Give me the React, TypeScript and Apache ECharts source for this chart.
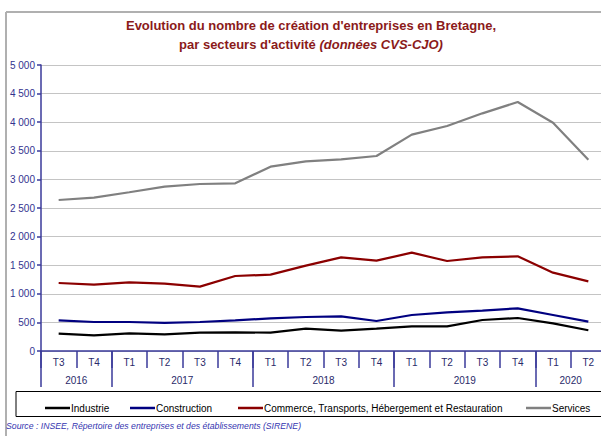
import React, { useEffect, useRef } from "react";
import * as echarts from "echarts";

const years = ["2016", "2017", "2018", "2019", "2020"];
const quartersPerYear = [["T3", "T4"], ["T1", "T2", "T3", "T4"], ["T1", "T2", "T3", "T4"], ["T1", "T2", "T3", "T4"], ["T1", "T2"]];
const quarters = quartersPerYear.flat();

const industrie = [303, 274, 309, 292, 320, 327, 320, 390, 355, 390, 431, 431, 542, 577, 484, 362];
const construction = [536, 507, 507, 490, 507, 536, 571, 594, 606, 524, 629, 676, 705, 746, 629, 513];
const commerce = [1189, 1160, 1200, 1177, 1125, 1311, 1335, 1492, 1637, 1579, 1719, 1573, 1637, 1655, 1369, 1218];
const services = [2640, 2680, 2775, 2873, 2920, 2932, 3222, 3316, 3351, 3409, 3782, 3934, 4155, 4353, 3991, 3345];

const seriesNames = ["Industrie", "Construction", "Commerce, Transports, Hébergement et Restauration", "Services"];
const seriesColors = ["#000000", "#000080", "#8b0000", "#808080"];
const yTicks = [0, 500, 1000, 1500, 2000, 2500, 3000, 3500, 4000, 4500, 5000];

// Build half-slot year axis (33 slots across 16 categories)
const yearSlots: string[] = [];
const yearBoundaries = new Set<number>();
(() => {
  const n = quarters.length * 2 + 1;
  for (let i = 0; i < n; i++) yearSlots.push("");
  let pos = 0;
  yearBoundaries.add(0);
  quartersPerYear.forEach((q, yi) => {
    const center = pos + q.length; // in half-slots
    yearSlots[center] = years[yi];
    pos += q.length * 2;
    yearBoundaries.add(pos);
  });
})();

const NAVY = "#3a3a9a";
const FONT = "Liberation Sans, Arial, sans-serif";

export default function App() {
  const ref = useRef<HTMLDivElement>(null);
  useEffect(() => {
    if (!ref.current) return;
    const chart = echarts.init(ref.current, undefined, { renderer: "svg" });
    const data = [industrie, construction, commerce, services];
    const legendLefts = [40, 125, 233, 521];
    chart.setOption({
      animation: false,
      backgroundColor: "#ffffff",
      textStyle: { fontFamily: FONT },
      grid: { left: 41, right: 4, top: 65, bottom: 85, containLabel: false, outerBoundsMode: "none" },
      xAxis: [
        {
          type: "category",
          data: quarters,
          boundaryGap: true,
          position: "bottom",
          axisLine: { show: true, lineStyle: { color: NAVY, width: 1.5 } },
          axisTick: { show: true, interval: 0, length: 17, lineStyle: { color: NAVY, width: 1.5 } },
          axisLabel: { interval: 0, margin: 6, fontSize: 10, color: "#2a2a6a", fontFamily: FONT },
          splitLine: { show: false },
        },
        {
          type: "category",
          data: yearSlots,
          boundaryGap: false,
          position: "bottom",
          axisLine: { show: false },
          axisTick: {
            show: true,
            length: 36,
            interval: (index: number) => yearBoundaries.has(index),
            lineStyle: { color: NAVY, width: 1.5 },
          },
          axisLabel: { interval: 0, margin: 24, fontSize: 10, color: "#2a2a6a", fontFamily: FONT },
          splitLine: { show: false },
        },
      ],
      yAxis: {
        type: "value",
        min: 0,
        max: 5000,
        interval: 500,
        axisLine: { show: true, lineStyle: { color: NAVY, width: 1.5 } },
        axisTick: { show: true, length: 4, lineStyle: { color: NAVY, width: 1.5 } },
        axisLabel: {
          margin: 6,
          fontSize: 10,
          color: "#33338f",
          fontFamily: FONT,
          formatter: (v: number) => (yTicks.includes(v) ? String(v).replace(/\B(?=(\d{3})+(?!\d))/g, " ") : ""),
        },
        splitLine: { show: true, lineStyle: { color: "#c4c4c4", width: 1 } },
      },
      legend: seriesNames.map((name, i) => ({
        data: [name],
        left: legendLefts[i],
        top: 398,
        icon: "rect",
        itemWidth: 25,
        itemHeight: 2.5,
        itemGap: 0,
        textStyle: { fontSize: 10, color: "#000", fontFamily: FONT, padding: [0, 0, 0, -4] },
        selectedMode: false,
      })),
      series: seriesNames.map((name, i) => ({
        name,
        type: "line",
        xAxisIndex: 0,
        data: data[i],
        showSymbol: false,
        symbol: "none",
        color: seriesColors[i],
        lineStyle: { color: seriesColors[i], width: 2.2 },
        z: 10 - i,
      })),
      graphic: [
        {
          type: "line",
          shape: { x1: 6, y1: 12, x2: 610, y2: 12 },
          style: { stroke: "#b0b0b0", lineWidth: 2 },
          silent: true,
        },
        {
          type: "line",
          shape: { x1: 6, y1: 12, x2: 6, y2: 436 },
          style: { stroke: "#b0b0b0", lineWidth: 2 },
          silent: true,
        },
        {
          type: "rect",
          shape: { x: 16, y: 391.5, width: 600, height: 25 },
          style: { fill: "none", stroke: "#000", lineWidth: 1 },
          silent: true,
        },
        {
          type: "text",
          x: 311,
          y: 16,
          style: {
            text: "Evolution du nombre de création d'entreprises en Bretagne,\npar secteurs d'activité {i|(données CVS-CJO)}",
            align: "center",
            verticalAlign: "top",
            fontSize: 13,
            fontWeight: "bold",
            fontFamily: FONT,
            fill: "#8b1a1a",
            lineHeight: 19,
            rich: {
              i: { fontSize: 13, fontWeight: "bold", fontStyle: "italic", fontFamily: FONT, fill: "#8b1a1a", lineHeight: 19 },
            },
          },
        },
        {
          type: "text",
          x: 6,
          y: 426,
          style: {
            text: "Source : INSEE, Répertoire des entreprises et des établissements (SIRENE)",
            fontSize: 8.7,
            fontStyle: "italic",
            fontFamily: FONT,
            fill: "#3535b0",
            verticalAlign: "middle",
          },
        },
      ],
    });
    return () => chart.dispose();
  }, []);
  return (
    <div style={{ position: "fixed", left: 0, top: 0, width: 601, height: 436, overflow: "hidden", background: "#fff" }}>
      <div ref={ref} style={{ width: 610, height: 436 }} />
    </div>
  );
}
